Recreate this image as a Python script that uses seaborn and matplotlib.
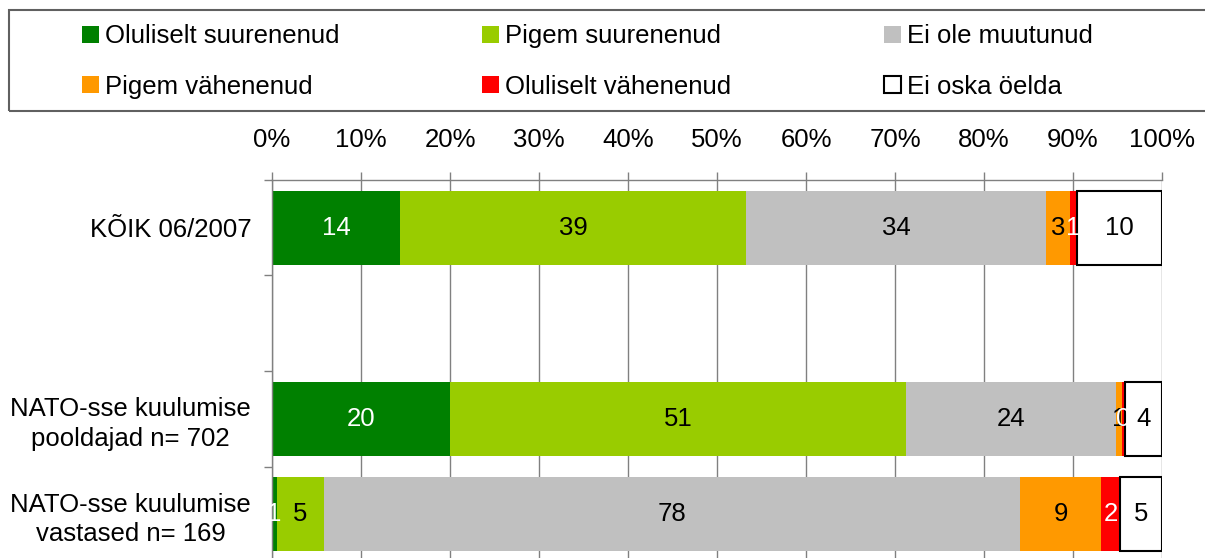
import numpy as np
import matplotlib
matplotlib.use("Agg")
import matplotlib.pyplot as plt
import seaborn as sns
from matplotlib.patches import Rectangle, Patch

# ---- data ----
categories = ["KÕIK 06/2007", "",
              "NATO-sse kuulumise\npooldajad n= 702",
              "NATO-sse kuulumise\nvastased n= 169"]
series_names = ["Oluliselt suurenenud", "Pigem suurenenud", "Ei ole muutunud",
                "Pigem vähenenud", "Oluliselt vähenenud", "Ei oska öelda"]
oluliselt_suurenenud = [14.4, np.nan, 20.0, 0.6]
pigem_suurenenud = [38.9, np.nan, 51.2, 5.2]
ei_ole_muutunud = [33.7, np.nan, 23.6, 78.3]
pigem_vahenenud = [2.7, np.nan, 0.7, 9.1]
oluliselt_vahenenud = [0.7, np.nan, 0.3, 2.1]
ei_oska_oelda = [9.6, np.nan, 4.2, 4.7]
x_ticks = [0, 10, 20, 30, 40, 50, 60, 70, 80, 90, 100]
x_tick_labels = [f"{t}%" for t in x_ticks]

series_values = [oluliselt_suurenenud, pigem_suurenenud, ei_ole_muutunud,
                 pigem_vahenenud, oluliselt_vahenenud, ei_oska_oelda]
colors = ["#008000", "#99CC00", "#C0C0C0", "#FF9900", "#FF0000", "#FFFFFF"]
label_colors = ["white", "black", "black", "black", "white", "black"]
edges = ["none", "none", "none", "none", "none", "black"]

sns.set_style("white")
plt.rcParams["font.family"] = ["Liberation Sans", "DejaVu Sans"]
plt.rcParams["text.color"] = "black"
plt.rcParams["xtick.labelcolor"] = "black"
plt.rcParams["ytick.labelcolor"] = "black"
FS = 18.5

fig = plt.figure(figsize=(12.05, 5.58), dpi=100)
top = 1 - 180 / 558
bottom = -4 / 558
ax = fig.add_axes([272 / 1205, bottom, 890 / 1205, top - bottom])

ypos = np.arange(len(categories))
left = np.zeros(len(categories))
bar_h = 0.77
for name, vals, col, lc, ec in zip(series_names, series_values, colors, label_colors, edges):
    v = np.array(vals, dtype=float)
    mask = ~np.isnan(v)
    cont = ax.barh(ypos[mask], v[mask], left=left[mask], height=bar_h, color=col,
                   edgecolor=ec, linewidth=1.5 if ec != "none" else 0, label=name, zorder=2)
    labels = [str(int(round(x))) for x in v[mask]]
    ax.bar_label(cont, labels=labels, label_type="center", color=lc, fontsize=FS, zorder=5)
    left[mask] += v[mask]

ax.set_xlim(0, 100)
ax.set_ylim(len(categories) - 0.5, -0.5)
ax.xaxis.tick_top()
ax.set_xticks(x_ticks)
ax.set_xticklabels(x_tick_labels, fontsize=FS)
ax.tick_params(axis="x", length=5.8, width=1, color="#808080", pad=14, top=True,
               bottom=False, labelcolor="black")
ax.set_yticks(ypos)
ax.set_yticklabels(categories, fontsize=FS, linespacing=1.3)
for t in ax.get_yticklabels():
    t.set_multialignment("center")
ax.set_yticks(np.arange(-0.5, len(categories) - 0.5, 1), minor=True)
ax.tick_params(axis="y", which="major", length=0, pad=15, labelcolor="black")
ax.tick_params(axis="y", which="minor", length=5.8, width=1, color="#808080", left=True)
ax.grid(axis="x", color="#808080", linewidth=1, zorder=0)
ax.grid(axis="y", visible=False)
ax.set_axisbelow(True)
for s in ["right", "bottom"]:
    ax.spines[s].set_visible(False)
for s in ["top", "left"]:
    ax.spines[s].set_color("#808080")
    ax.spines[s].set_linewidth(1)
ax.set_xlabel("")
ax.set_ylabel("")

# legend: three columns, each a small legend, row-major order as in the reference
handles, labs = ax.get_legend_handles_labels()
col_x = [82, 482, 884]
col_items = [[0, 3], [1, 4], [2, 5]]
for cx, items in zip(col_x, col_items):
    hs = [Patch(facecolor=colors[i], edgecolor="black" if edges[i] != "none" else "none",
                linewidth=1.5 if edges[i] != "none" else 0) for i in items]
    lg = fig.legend(hs, [labs[i] for i in items], ncol=1, loc="center left",
                    bbox_to_anchor=(cx / 1205, 1 - 61.5 / 558), frameon=False, fontsize=FS,
                    handlelength=0.66, handleheight=0.66, handletextpad=0.23,
                    labelspacing=1.03, borderpad=0, borderaxespad=0)
fig.patches.append(Rectangle((9 / 1205, 1 - 111 / 558), 1.0, 101 / 558,
                             transform=fig.transFigure, fill=False,
                             edgecolor="#606060", linewidth=1.5))

fig.savefig("out.png", dpi=100)
